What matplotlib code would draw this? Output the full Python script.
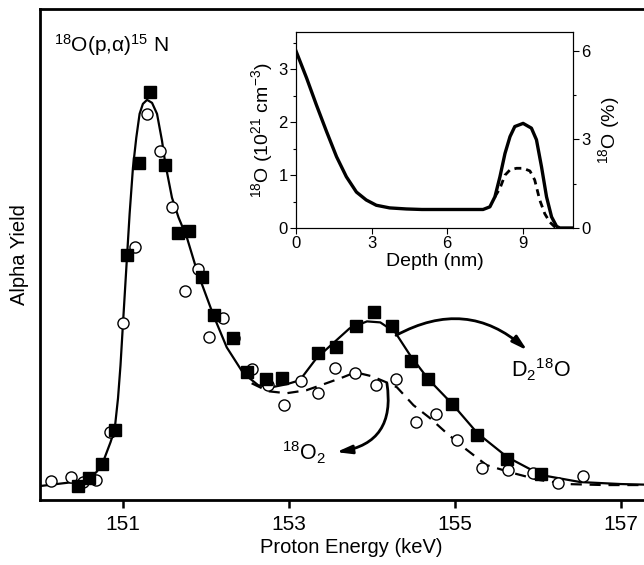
import matplotlib
matplotlib.use("Agg")
import matplotlib.pyplot as plt
from matplotlib.ticker import MultipleLocator

plt.rcParams['font.family'] = ['Liberation Sans', 'DejaVu Sans']
plt.rcParams['mathtext.fontset'] = 'custom'
plt.rcParams['mathtext.rm'] = 'Liberation Sans'
plt.rcParams['mathtext.it'] = 'Liberation Sans:italic'

# measured yields, D2 18O (filled squares)
d2o_energy = [150.46, 150.59, 150.75, 150.90, 151.05, 151.19, 151.32, 151.51, 151.66,
              151.80, 151.95, 152.10, 152.33, 152.49, 152.72, 152.91, 153.35, 153.57,
              153.81, 154.02, 154.24, 154.47, 154.68, 154.97, 155.27, 155.63, 156.04]
d2o_yield = [0.14, 0.22, 0.36, 0.70, 2.46, 3.38, 4.09, 3.36, 2.68,
             2.70, 2.23, 1.85, 1.62, 1.28, 1.21, 1.22, 1.47, 1.53,
             1.74, 1.88, 1.74, 1.39, 1.21, 0.96, 0.65, 0.41, 0.26]

# measured yields, 18O2 (open circles)
o2_energy = [150.13, 150.37, 150.52, 150.68, 150.84, 151.00, 151.14, 151.29, 151.44,
             151.59, 151.75, 151.90, 152.04, 152.20, 152.34, 152.55, 152.75, 152.94,
             153.14, 153.35, 153.55, 153.80, 154.05, 154.29, 154.53, 154.77, 155.02,
             155.33, 155.64, 155.94, 156.24, 156.54]
o2_yield = [0.19, 0.23, 0.18, 0.20, 0.68, 1.77, 2.54, 3.87, 3.50,
            2.94, 2.09, 2.32, 1.63, 1.82, 1.62, 1.31, 1.15, 0.95,
            1.19, 1.07, 1.32, 1.27, 1.15, 1.21, 0.78, 0.86, 0.60,
            0.32, 0.30, 0.27, 0.17, 0.24]

# simulated curves
fit_d2o_energy = [150.0, 150.40, 150.59, 150.68, 150.75, 150.80, 150.85, 150.90, 150.94,
                  150.97, 151.00, 151.05, 151.08, 151.12, 151.16, 151.20, 151.24, 151.29,
                  151.35, 151.41, 151.47, 151.51, 151.59, 151.67, 151.77, 151.89, 152.09,
                  152.25, 152.45, 152.63, 152.79, 152.97, 153.13, 153.33, 153.53, 153.73,
                  153.94, 154.10, 154.28, 154.46, 154.68, 154.97, 155.27, 155.63, 156.04,
                  156.51, 157.0, 157.5]
fit_d2o_yield = [0.14, 0.18, 0.22, 0.28, 0.36, 0.47, 0.58, 0.71, 1.02,
                 1.35, 1.77, 2.46, 2.87, 3.33, 3.63, 3.87, 3.97, 4.01,
                 3.98, 3.87, 3.60, 3.37, 3.03, 2.83, 2.63, 2.30, 1.85,
                 1.53, 1.27, 1.15, 1.13, 1.16, 1.20, 1.42, 1.57, 1.72,
                 1.79, 1.78, 1.68, 1.45, 1.21, 0.96, 0.67, 0.43, 0.25,
                 0.18, 0.16, 0.15]
fit_o2_energy = [152.55, 152.75, 152.97, 153.21, 153.45, 153.65, 153.80, 154.00, 154.20,
                 154.30, 154.50, 154.70, 154.90, 155.10, 155.38, 155.70, 156.02, 156.35,
                 156.8, 157.5]
fit_o2_yield = [1.17, 1.09, 1.07, 1.10, 1.17, 1.23, 1.28, 1.24, 1.17,
                1.13, 0.95, 0.82, 0.67, 0.53, 0.35, 0.27, 0.20, 0.16,
                0.15, 0.15]

# inset: depth profiles
depth_d2o = [0, 0.42, 0.81, 1.21, 1.61, 2.0, 2.4, 2.79, 3.19, 3.72, 4.38, 5.0, 6.0, 7.0,
             7.43, 7.7, 7.9, 8.1, 8.3, 8.5, 8.69, 9.02, 9.35, 9.55, 9.75, 9.95, 10.15,
             10.35, 10.48, 11.0]
conc_d2o = [3.35, 2.84, 2.33, 1.83, 1.35, 0.97, 0.68, 0.53, 0.43, 0.38, 0.36, 0.35, 0.35, 0.35,
            0.35, 0.40, 0.59, 0.97, 1.41, 1.73, 1.92, 1.98, 1.89, 1.67, 1.16, 0.59, 0.21,
            0.03, 0.0, 0.0]
depth_o2 = [7.9, 8.1, 8.3, 8.5, 8.76, 9.02, 9.29, 9.48, 9.68, 9.88, 10.08, 10.28, 10.48]
conc_o2 = [0.59, 0.75, 1.0, 1.10, 1.13, 1.13, 1.08, 0.91, 0.53, 0.27, 0.11, 0.02, 0.0]

fig = plt.figure(figsize=(6.44, 5.65), dpi=100)
ax = fig.add_axes([0.0621, 0.115, 0.9666, 0.869])

ax.plot(fit_d2o_energy, fit_d2o_yield, color='black', lw=1.6, zorder=2)
ax.plot(fit_o2_energy, fit_o2_yield, color='black', lw=1.6, ls=(0, (5, 3.5)), zorder=2)
ax.plot(o2_energy, o2_yield, 'o', ms=8, mfc='white', mec='black', mew=1.0, zorder=3)
ax.plot(d2o_energy, d2o_yield, 's', ms=8.5, mfc='black', mec='black', zorder=4)

ax.set_xlim(150, 157.5)
ax.set_ylim(0, 4.92)
ax.set_xticks([151, 153, 155, 157])
ax.set_yticks([])
ax.tick_params(axis='x', direction='out', length=6, width=1.8, labelsize=15, pad=5)
for s in ['left', 'bottom', 'top', 'right']:
    ax.spines[s].set_linewidth(2.0)
ax.set_xlabel('Proton Energy (keV)', fontsize=14.5, labelpad=3)
ax.set_ylabel('Alpha Yield', fontsize=14.5, labelpad=8)

ax.text(150.17, 4.49, r'$^{18}$O(p,α)$^{15}$ N', fontsize=15, va='baseline', ha='left')
ax.text(155.67, 1.23, r'D$_2$$^{18}$O', fontsize=15.5, va='baseline', ha='left')
ax.text(152.92, 0.40, r'$^{18}$O$_2$', fontsize=15.5, va='baseline', ha='left')

ax.annotate('', xy=(155.87, 1.50), xytext=(154.29, 1.65),
            arrowprops=dict(arrowstyle='-|>,head_length=0.9,head_width=0.25',
                            connectionstyle='arc3,rad=-0.35', color='black', lw=2.0,
                            shrinkA=0, shrinkB=0))
ax.annotate('', xy=(153.57, 0.48), xytext=(154.18, 1.17),
            arrowprops=dict(arrowstyle='-|>,head_length=0.9,head_width=0.25',
                            connectionstyle='arc3,rad=-0.5', color='black', lw=2.0,
                            shrinkA=0, shrinkB=0))

# inset
ins = fig.add_axes([0.4596, 0.5965, 0.4301, 0.3469])
ins.plot(depth_d2o, conc_d2o, color='black', lw=2.4)
ins.plot(depth_o2, conc_o2, color='black', lw=2.0, ls=(0, (2.5, 1.8)))
ins.set_xlim(0, 11)
ins.set_ylim(0, 3.71)
ins.set_xticks([0, 3, 6, 9])
ins.set_yticks([0, 1, 2, 3])
ins.yaxis.set_minor_locator(MultipleLocator(0.5))
ins.tick_params(which='both', direction='out', labelsize=12, width=0.8, pad=2)
ins.tick_params(which='major', length=4)
ins.tick_params(which='minor', length=2.5)
ins.set_xlabel('Depth (nm)', fontsize=14, labelpad=1)
ins.set_ylabel(r'$^{18}$O (10$^{21}$ cm$^{-3}$)', fontsize=14, labelpad=2)

pct = ins.twinx()
pct.set_ylim(0, 6.63)
pct.set_yticks([0, 3, 6])
pct.yaxis.set_minor_locator(MultipleLocator(1.5))
pct.tick_params(which='both', direction='out', labelsize=12, width=0.8, pad=2)
pct.tick_params(which='major', length=4)
pct.tick_params(which='minor', length=2.5)
pct.set_ylabel(r'$^{18}$O (%)', fontsize=14, labelpad=4)

fig.savefig('out.png', dpi=100)
